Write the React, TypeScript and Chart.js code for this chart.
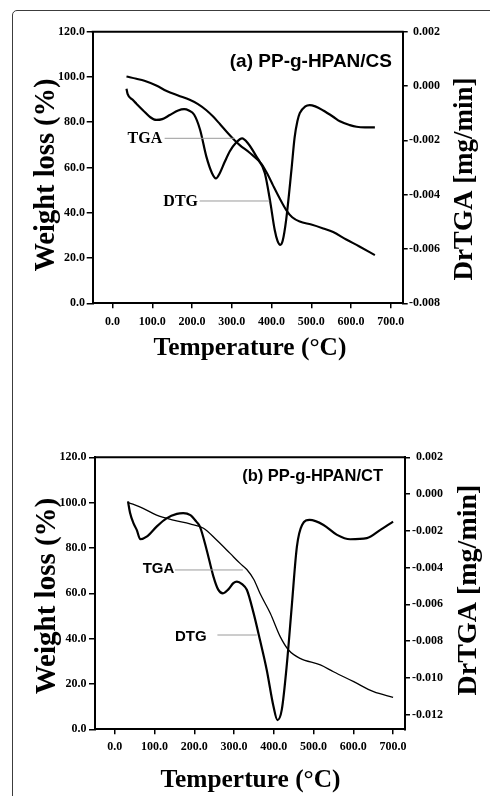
import React, { useEffect, useRef } from 'react';
import { Chart, registerables } from 'chart.js';

Chart.register(...registerables);

// ---------- axis ticks ----------
const tempTicks = [0, 100, 200, 300, 400, 500, 600, 700];
const weightTicks = [0, 20, 40, 60, 80, 100, 120];
const rateTicksA = [-0.008, -0.006, -0.004, -0.002, 0, 0.002];
const rateTicksB = [-0.012, -0.01, -0.008, -0.006, -0.004, -0.002, 0, 0.002];

// ---------- panel (a) PP-g-HPAN/CS ----------
const tgaTempA = [35, 60, 80, 110, 136, 165, 194, 215, 236, 253, 270, 287, 305, 320, 345, 375, 390, 404, 420, 437, 452, 471, 500, 530, 555, 588, 620, 660];
const tgaWeightA = [100.2, 99.2, 98.3, 96.2, 93.8, 91.8, 89.9, 88.0, 85.3, 82.5, 79.2, 75.8, 72.4, 69.9, 66.5, 61.5, 57.0, 52.0, 46.5, 41.2, 38.0, 36.1, 34.8, 33.1, 31.5, 28.2, 25.2, 21.3];
const dtgTempA = [35, 38, 50, 60, 77, 95, 110, 125, 144, 165, 180, 192, 205, 220, 236, 250, 260, 270, 282, 295, 310, 326, 340, 362, 383, 396, 408, 415, 422, 428, 437, 450, 458, 465, 471, 485, 496, 510, 530, 555, 572, 597, 614, 635, 660];
const dtgRateA = [-0.0001, -0.0003, -0.0005, -0.00065, -0.0009, -0.00115, -0.00125, -0.00122, -0.00107, -0.0009, -0.00085, -0.0009, -0.00105, -0.0016, -0.0026, -0.0032, -0.0034, -0.0032, -0.0028, -0.0024, -0.0021, -0.00193, -0.0021, -0.0026, -0.0032, -0.0042, -0.0053, -0.0057, -0.00585, -0.0057, -0.0049, -0.0031, -0.0019, -0.0013, -0.001, -0.00075, -0.0007, -0.00075, -0.0009, -0.00113, -0.0013, -0.00144, -0.0015, -0.00152, -0.00152];

// ---------- panel (b) PP-g-HPAN/CT ----------
const tgaTempB = [33, 50, 71, 105, 147, 189, 223, 256, 290, 315, 332, 350, 365, 391, 416, 437, 466, 517, 550, 601, 651, 700];
const tgaWeightB = [100.0, 99.0, 97.5, 94.5, 92.3, 90.6, 88.7, 83.5, 77.6, 73.2, 70.5, 66.0, 60.0, 51.2, 40.9, 35.0, 31.3, 28.4, 25.4, 21.0, 16.6, 14.1];
const dtgTempB = [33, 38, 47, 55, 64, 80, 105, 130, 156, 172, 190, 205, 214, 231, 248, 260, 272, 285, 298, 307, 320, 332, 349, 365, 382, 399, 409, 420, 433, 445, 458, 471, 490, 525, 559, 592, 634, 668, 700];
const dtgRateB = [-0.0004, -0.001, -0.0016, -0.00195, -0.00246, -0.00232, -0.00177, -0.00132, -0.00108, -0.00104, -0.00115, -0.0015, -0.00177, -0.00304, -0.00449, -0.0052, -0.0054, -0.0052, -0.00485, -0.00476, -0.0049, -0.00521, -0.00648, -0.00793, -0.00956, -0.01155, -0.0123, -0.01173, -0.0092, -0.00612, -0.00286, -0.00168, -0.00141, -0.00168, -0.00222, -0.00246, -0.0024, -0.00195, -0.0015];

const SERIF = '"Liberation Serif", "Times New Roman", serif';
const SANS = '"Liberation Sans", Arial, sans-serif';

type TextItem = { text: string; x: number; y: number; size: number; family: string; align: CanvasTextAlign; rotate?: boolean };
type Leader = { label: string; labelT: number; labelW: number; fromT: number; toT: number; lineW: number; size: number; family: string };

const decorPlugin = {
  id: 'decor',
  afterDraw(chart: any, _args: any, opts: any) {
    const ctx: CanvasRenderingContext2D = chart.ctx;
    const ca = chart.chartArea;
    const xs = chart.scales.x;
    const ys = chart.scales.yW;
    ctx.save();
    // top frame line
    ctx.strokeStyle = '#000';
    ctx.lineWidth = 2;
    ctx.beginPath();
    ctx.moveTo(ca.left - 1, ca.top);
    ctx.lineTo(ca.right + 1, ca.top);
    ctx.stroke();
    // leaders + labels
    (opts.leaders as Leader[]).forEach((l) => {
      const y = ys.getPixelForValue(l.lineW);
      ctx.strokeStyle = '#9a9a9a';
      ctx.lineWidth = 1;
      ctx.beginPath();
      ctx.moveTo(xs.getPixelForValue(l.fromT), y);
      ctx.lineTo(xs.getPixelForValue(l.toT), y);
      ctx.stroke();
      ctx.fillStyle = '#000';
      ctx.font = `bold ${l.size}px ${l.family}`;
      ctx.textAlign = 'right';
      ctx.textBaseline = 'middle';
      ctx.fillText(l.label, xs.getPixelForValue(l.labelT), ys.getPixelForValue(l.labelW));
    });
    // texts
    (opts.texts as TextItem[]).forEach((t) => {
      ctx.save();
      ctx.fillStyle = '#000';
      ctx.font = `bold ${t.size}px ${t.family}`;
      ctx.textAlign = t.align;
      ctx.textBaseline = 'alphabetic';
      ctx.translate(t.x, t.y);
      if (t.rotate) ctx.rotate(-Math.PI / 2);
      ctx.fillText(t.text, 0, 0);
      ctx.restore();
    });
    ctx.restore();
  },
};

type Panel = {
  tgaT: number[]; tgaW: number[]; dtgT: number[]; dtgD: number[];
  rateTicks: number[]; rateMin: number;
  tgaWidth: number;
  padTop: number; padRight: number; leftW: number; rightW: number; xH: number;
  xPad: number; leftPad: number; rightPad: number;
  texts: TextItem[]; leaders: Leader[];
};

function buildConfig(p: Panel): any {
  const tickFont = { family: SERIF, weight: 'bold' as const, size: 12 };
  const grid = { drawOnChartArea: false, drawTicks: true, tickLength: 5, color: '#000', lineWidth: 1.5 };
  const border = { display: true, color: '#000', width: 2 };
  return {
    type: 'line',
    data: {
      datasets: [
        {
          label: 'TGA',
          data: p.tgaT.map((t, i) => ({ x: t, y: p.tgaW[i] })),
          yAxisID: 'yW',
          borderColor: '#000',
          borderWidth: p.tgaWidth,
          pointRadius: 0,
          cubicInterpolationMode: 'monotone',
          fill: false,
        },
        {
          label: 'DTG',
          data: p.dtgT.map((t, i) => ({ x: t, y: p.dtgD[i] })),
          yAxisID: 'yR',
          borderColor: '#000',
          borderWidth: 2.2,
          pointRadius: 0,
          cubicInterpolationMode: 'monotone',
          fill: false,
        },
      ],
    },
    options: {
      animation: false,
      responsive: false,
      events: [],
      layout: { padding: { top: p.padTop, left: 0, right: p.padRight, bottom: 0 } },
      plugins: {
        legend: { display: false },
        tooltip: { enabled: false },
        decor: { texts: p.texts, leaders: p.leaders },
      },
      scales: {
        x: {
          type: 'linear',
          position: 'bottom',
          min: -50,
          max: 730,
          afterBuildTicks: (s: any) => { s.ticks = tempTicks.map((v) => ({ value: v })); },
          afterFit: (s: any) => { s.height = p.xH; },
          grid,
          border,
          ticks: { font: tickFont, color: '#000', padding: p.xPad, maxRotation: 0, autoSkip: false, callback: (v: any) => Number(v).toFixed(1) },
        },
        yW: {
          type: 'linear',
          position: 'left',
          min: 0,
          max: 120,
          afterBuildTicks: (s: any) => { s.ticks = weightTicks.map((v) => ({ value: v })); },
          afterFit: (s: any) => { s.width = p.leftW; },
          grid: { ...grid, tickLength: 6 },
          border,
          ticks: { font: tickFont, color: '#000', padding: p.leftPad, callback: (v: any) => Number(v).toFixed(1) },
        },
        yR: {
          type: 'linear',
          position: 'right',
          min: p.rateMin,
          max: 0.002,
          afterBuildTicks: (s: any) => { s.ticks = p.rateTicks.map((v) => ({ value: v })); },
          afterFit: (s: any) => { s.width = p.rightW; },
          grid,
          border,
          ticks: { font: tickFont, color: '#000', padding: p.rightPad, crossAlign: 'far', callback: (v: any) => Number(v).toFixed(3) },
        },
      },
    },
    plugins: [decorPlugin],
  };
}

const panelA: Panel = {
  tgaT: tgaTempA, tgaW: tgaWeightA, dtgT: dtgTempA, dtgD: dtgRateA,
  rateTicks: rateTicksA, rateMin: -0.008,
  tgaWidth: 2.1,
  padTop: 31.7, padRight: 50, leftW: 92.7, rightW: 37.3, xH: 395 - 303.3,
  xPad: 6, leftPad: 1.7, rightPad: 0.6,
  texts: [
    { text: '(a) PP-g-HPAN/CS', x: 392, y: 66.5, size: 19, family: SANS, align: 'right' },
    { text: 'Weight loss (%)', x: 54, y: 175, size: 28.5, family: SERIF, align: 'center', rotate: true },
    { text: 'DrTGA [mg/min]', x: 472, y: 179, size: 27, family: SERIF, align: 'center', rotate: true },
    { text: 'Temperature (°C)', x: 250, y: 355, size: 25.4, family: SERIF, align: 'center' },
  ],
  leaders: [
    { label: 'TGA', labelT: 125, labelW: 72.7, fromT: 131, toT: 307, lineW: 72.9, size: 16, family: SERIF },
    { label: 'DTG', labelT: 215, labelW: 45.0, fromT: 219, toT: 395, lineW: 45.2, size: 16, family: SERIF },
  ],
};

const TOP_B = 398;
const panelB: Panel = {
  tgaT: tgaTempB, tgaW: tgaWeightB, dtgT: dtgTempB, dtgD: dtgRateB,
  rateTicks: rateTicksB, rateMin: -0.0128,
  tgaWidth: 1.3,
  padTop: 457.3 - TOP_B, padRight: 47, leftW: 95, rightW: 38, xH: 796 - 729.3,
  xPad: 5, leftPad: 2.5, rightPad: 2,
  texts: [
    { text: '(b) PP-g-HPAN/CT', x: 383, y: 481 - TOP_B, size: 16.5, family: SANS, align: 'right' },
    { text: 'Weight loss (%)', x: 55, y: 596 - TOP_B, size: 29, family: SERIF, align: 'center', rotate: true },
    { text: 'DrTGA [mg/min]', x: 476, y: 590 - TOP_B, size: 28, family: SERIF, align: 'center', rotate: true },
    { text: 'Temperture (°C)', x: 250.5, y: 786.7 - TOP_B, size: 25.4, family: SERIF, align: 'center' },
  ],
  leaders: [
    { label: 'TGA', labelT: 149.5, labelW: 70.7, fromT: 151, toT: 322, lineW: 70.3, size: 15, family: SANS },
    { label: 'DTG', labelT: 231, labelW: 40.6, fromT: 258, toT: 357, lineW: 41.6, size: 15, family: SANS },
  ],
};

function ChartCanvas({ panel, top, height }: { panel: Panel; top: number; height: number }) {
  const ref = useRef<HTMLCanvasElement | null>(null);
  useEffect(() => {
    if (!ref.current) return;
    const chart = new Chart(ref.current, buildConfig(panel));
    return () => chart.destroy();
  }, [panel]);
  return (
    <canvas
      ref={ref}
      width={490}
      height={height}
      style={{ position: 'absolute', left: 0, top, width: 490, height, display: 'block' }}
    />
  );
}

export default function App() {
  return (
    <div style={{ position: 'fixed', left: 0, top: 0, width: 490, height: 796, overflow: 'hidden', background: '#fff' }}>
      <div
        style={{
          position: 'absolute', left: 12, top: 9.5, width: 600, height: 900,
          border: '1.2px solid #3c3c3c', borderRadius: 5, boxSizing: 'border-box',
        }}
      />
      <ChartCanvas panel={panelA} top={0} height={395} />
      <ChartCanvas panel={panelB} top={TOP_B} height={796 - TOP_B} />
    </div>
  );
}
